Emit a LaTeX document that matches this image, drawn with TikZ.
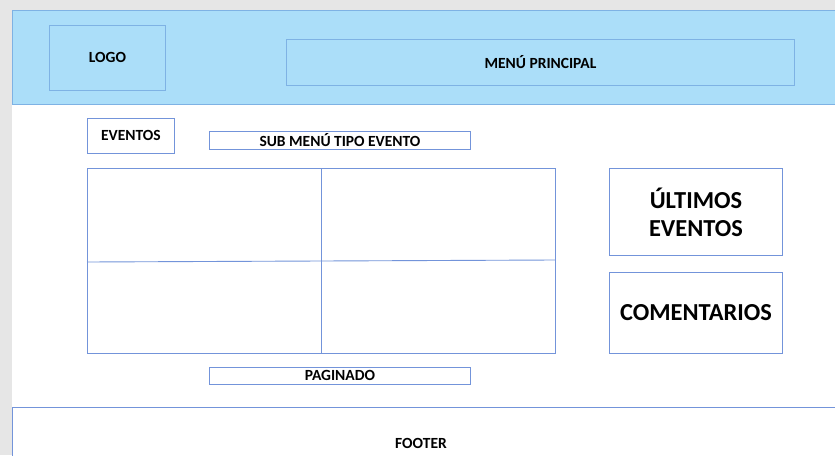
\documentclass[tikz,border=0pt]{standalone}
\usepackage{fontspec}
\setmainfont{Carlito}
\definecolor{pagegray}{RGB}{230,230,230}
\definecolor{headfill}{RGB}{171,222,249}
\definecolor{headline}{RGB}{126,178,228}
\definecolor{boxline}{RGB}{115,148,218}
\begin{document}
\begin{tikzpicture}[x=1pt,y=-1pt,
  small/.style={font=\bfseries\fontsize{15.5}{18}\selectfont},
  big/.style={font=\bfseries\fontsize{24.4}{28}\selectfont},
  wbox/.style={draw=boxline,line width=0.9pt,inner sep=0pt,anchor=north west,small},
  hbox/.style={draw=headline,line width=0.9pt,inner sep=0pt,anchor=north west,small}]
\useasboundingbox (0,0) rectangle (835,455);
\fill[pagegray] (0,0) rectangle (835,455);
\fill[white] (12,10) rectangle (835,455);
% header
\node[hbox,fill=headfill,minimum width=830pt,minimum height=94pt] (header) at (12,10) {};
\node[hbox,minimum width=116pt,minimum height=65pt] (logo) at (49,25) {LOGO};
\node[hbox,minimum width=508pt,minimum height=46pt] (menu) at (286,39) {MENÚ PRINCIPAL};
% eventos
\node[wbox,minimum width=87pt,minimum height=35pt] (eventos) at (87,118) {EVENTOS};
\node[wbox,minimum width=261pt,minimum height=18pt] (submenu) at (209,131) {SUB MENÚ TIPO EVENTO};
% grid
\node[wbox,minimum width=468pt,minimum height=185pt] (grid) at (87,168) {};
\coordinate (vt) at (321,168);
\coordinate (vb) at (321,353);
\coordinate (hl) at (87,262);
\coordinate (hr) at (555,260);
\draw[boxline,line width=0.9pt] (vt) -- (vb);
\draw[boxline,line width=0.9pt] (hl) -- (hr);
% side
\node[wbox,big,minimum width=173pt,minimum height=87pt,align=center] (ultimos) at (609,168) {ÚLTIMOS\\EVENTOS};
\node[wbox,big,minimum width=173pt,minimum height=81pt] (coment) at (609,272) {COMENTARIOS};
% paginado
\node[wbox,minimum width=261pt,minimum height=17pt] (pag) at (209,367) {PAGINADO};
% footer
\node[wbox,minimum width=830pt,minimum height=60pt] (footer) at (12,407) {};
\node[small] (ftext) at (421,443) {FOOTER};
\end{tikzpicture}
\end{document}
